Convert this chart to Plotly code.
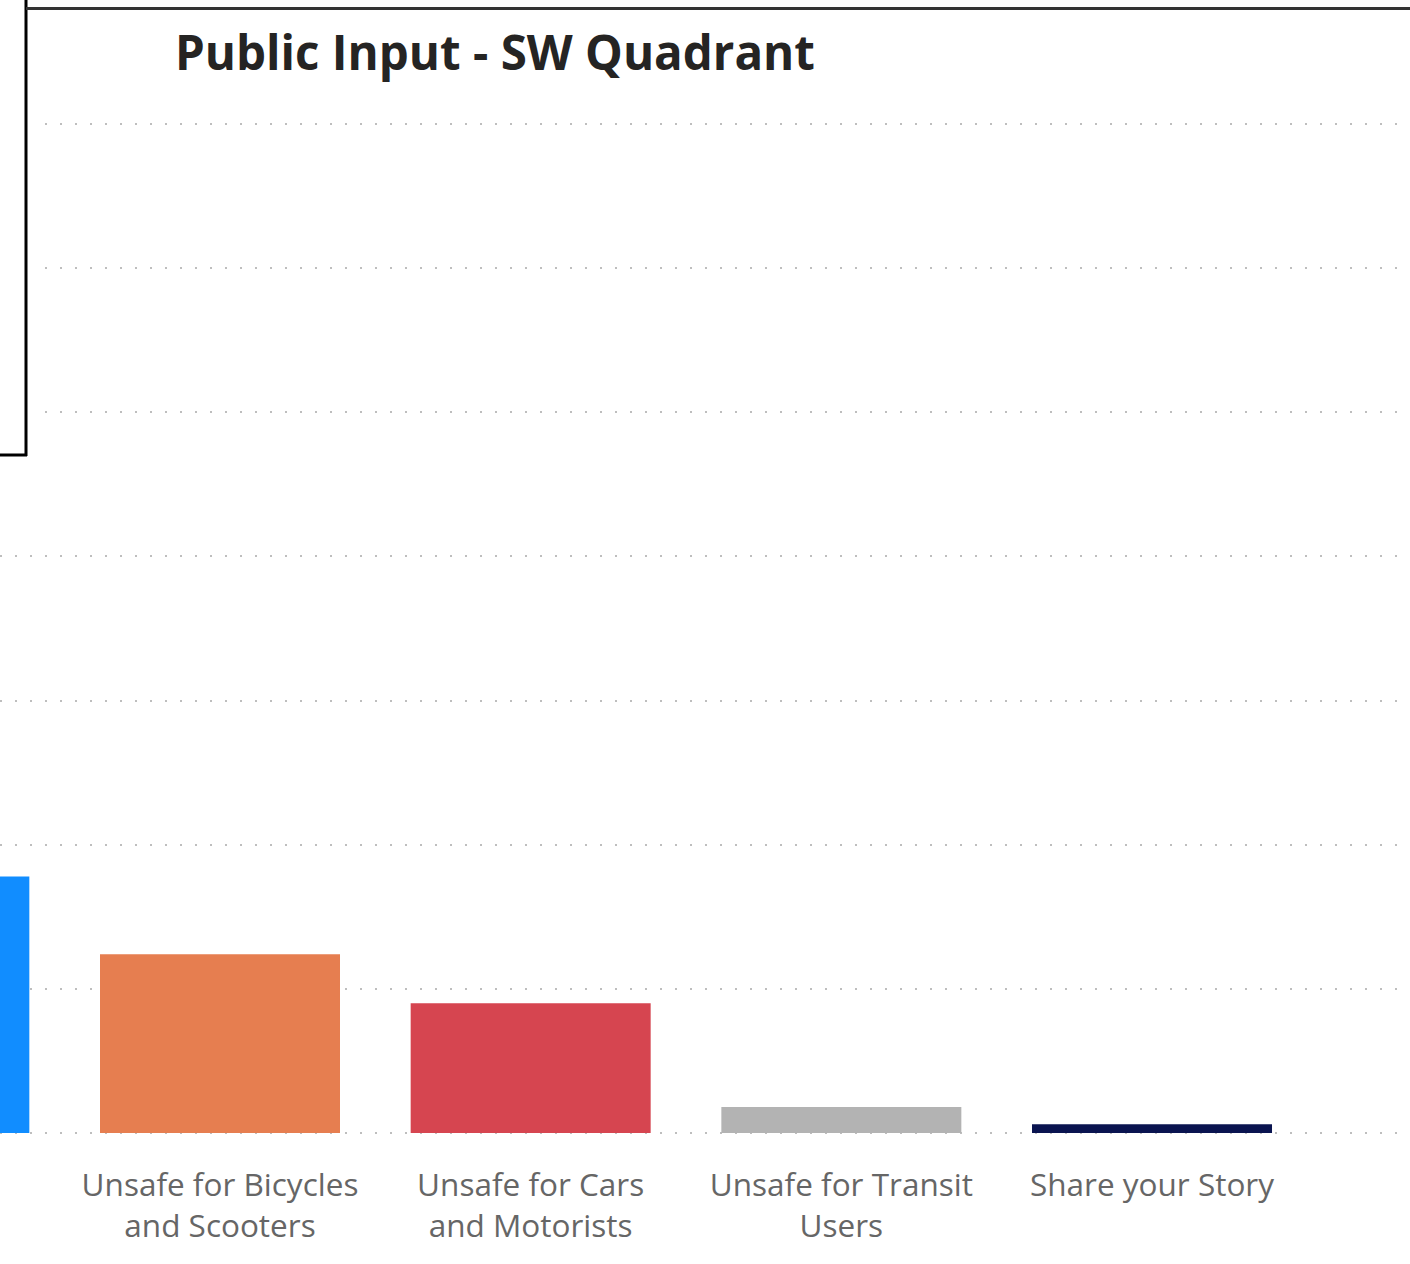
import plotly.graph_objects as go

# category labels (first one is cut off in the source screenshot)
categories = [
    "Unsafe for Pedestrians",
    "Unsafe for Bicycles<br>and Scooters",
    "Unsafe for Cars<br>and Motorists",
    "Unsafe for Transit<br>Users",
    "Share your Story",
]
counts = [89, 62, 45, 9, 3]
bar_colors = ["#118DFF", "#E67E50", "#D64550", "#B3B3B3", "#0A1450"]

W, H = 1410, 1264
plot_left, plot_right = 0, 1400
plot_top, plot_bottom = 100, 1135
zero_px = 1133
grid_px = 144.14  # pixels per 50 units

plot_w = plot_right - plot_left
plot_h = plot_bottom - plot_top
ymin = -(plot_bottom - zero_px) / grid_px * 50
ymax = (zero_px - plot_top) / grid_px * 50

# first visible category center at x=220, spacing ~310.7 px
spacing = 310.67
x0 = 1 - (220 - plot_left) / spacing
x1 = x0 + plot_w / spacing


def px(xp):
    return (xp - plot_left) / plot_w


def py(yp):
    return (plot_bottom - yp) / plot_h


fig = go.Figure(go.Bar(
    x=categories, y=counts,
    marker=dict(color=bar_colors, line=dict(width=0)),
    hoverinfo="x+y",
))

fig.update_layout(
    width=W, height=H,
    margin=dict(l=plot_left, r=W - plot_right, t=plot_top, b=H - plot_bottom),
    paper_bgcolor="white", plot_bgcolor="white",
    bargap=1 - 240 / spacing,
    showlegend=False,
    font=dict(family="Open Sans, Segoe UI, sans-serif", color="#605E5C"),
)

fig.update_xaxes(
    range=[x0, x1], showgrid=False, zeroline=False, showline=False,
    ticks="outside", ticklen=22, tickcolor="rgba(0,0,0,0)",
    tickfont=dict(size=31.5, color="#666666"),
)
fig.update_yaxes(
    range=[ymin, ymax], dtick=50, showticklabels=False, zeroline=False,
    showgrid=True, gridcolor="#BEBEBE", gridwidth=2, griddash="2px,13px",
)

# title
fig.add_annotation(
    text="<b>Public Input - SW Quadrant</b>", xref="paper", yref="paper",
    x=px(173), y=py(52), xanchor="left", yanchor="middle", showarrow=False,
    font=dict(size=47.5, color="#252423", family="Open Sans, Segoe UI, sans-serif"),
)

# frame of the overlapping visual in the top-left corner
fig.add_shape(type="rect", xref="paper", yref="paper",
              x0=px(-5), x1=px(33), y0=py(455), y1=py(-5),
              fillcolor="white", line=dict(width=0), layer="above")
fig.add_shape(type="line", xref="paper", yref="paper",
              x0=px(26), x1=px(26), y0=py(-2), y1=py(456),
              line=dict(color="#000000", width=3), layer="above")
fig.add_shape(type="line", xref="paper", yref="paper",
              x0=px(-2), x1=px(27), y0=py(455), y1=py(455),
              line=dict(color="#000000", width=3), layer="above")
fig.add_shape(type="line", xref="paper", yref="paper",
              x0=px(26), x1=px(1412), y0=py(8.5), y1=py(8.5),
              line=dict(color="#333333", width=3), layer="above")

fig.write_html("out.html", config={"displayModeBar": False},
               post_script="document.body.style.margin='0';")
